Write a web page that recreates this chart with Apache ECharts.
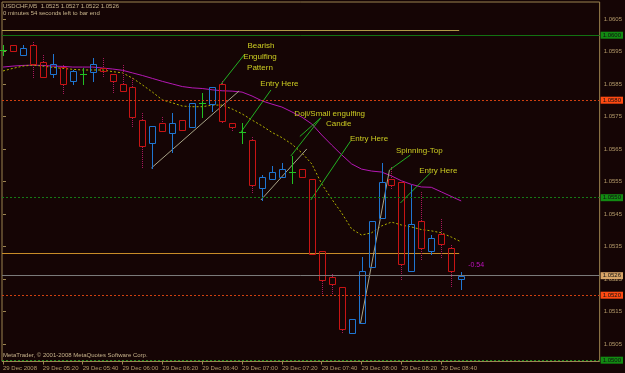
<!DOCTYPE html>
<html><head><meta charset="utf-8">
<script src="https://cdn.jsdelivr.net/npm/echarts@6/dist/echarts.min.js"></script>
<style>html,body{margin:0;padding:0;background:#150505;}#c{width:625px;height:373px;}</style>
</head><body><div id="c"></div>
<script>
// ---- data ----
const times = ["05:00","05:05","05:10","05:15","05:20","05:25","05:30","05:35","05:40","05:45","05:50","05:55",
"06:00","06:05","06:10","06:15","06:20","06:25","06:30","06:35","06:40","06:45","06:50","06:55",
"07:00","07:05","07:10","07:15","07:20","07:25","07:30","07:35","07:40","07:45","07:50","07:55",
"08:00","08:05","08:10","08:15","08:20","08:25","08:30","08:35","08:40","08:45","08:50"];
const opens  = [1.05955,1.05970,1.05939,1.05970,1.05919,1.05880,1.05901,1.05860,1.05881,1.05888,1.05900,1.05880,
1.05849,1.05840,1.05739,1.05668,1.05729,1.05698,1.05739,1.05719,1.05790,1.05788,1.05850,1.05729,
1.05703,1.05678,1.05529,1.05557,1.05565,1.05580,1.05588,1.05557,1.05336,1.05255,1.05224,1.05085,
1.05114,1.05286,1.05437,1.05557,1.05548,1.05275,1.05428,1.05336,1.05388,1.05346,1.05250];
const highs  = [1.05970,1.05970,1.05970,1.05980,1.05939,1.05942,1.05908,1.05892,1.05898,1.05929,1.05929,1.05880,
1.05908,1.05868,1.05761,1.05721,1.05748,1.05760,1.05739,1.05791,1.05821,1.05840,1.05860,1.05729,
1.05730,1.05688,1.05570,1.05598,1.05608,1.05628,1.05588,1.05557,1.05336,1.05265,1.05224,1.05126,
1.05317,1.05428,1.05608,1.05596,1.05548,1.05538,1.05518,1.05385,1.05434,1.05355,1.05270];
const lows   = [1.05940,1.05950,1.05939,1.05872,1.05871,1.05871,1.05821,1.05849,1.05850,1.05860,1.05872,1.05821,
1.05829,1.05719,1.05592,1.05591,1.05706,1.05642,1.05708,1.05719,1.05749,1.05768,1.05729,1.05708,
1.05668,1.05519,1.05493,1.05557,1.05565,1.05546,1.05565,1.05326,1.05206,1.05206,1.05085,1.05085,
1.05114,1.05286,1.05437,1.05529,1.05247,1.05275,1.05308,1.05327,1.05317,1.05224,1.05220];
const closes = [1.05955,1.05950,1.05960,1.05911,1.05871,1.05912,1.05849,1.05891,1.05881,1.05912,1.05890,1.05860,
1.05829,1.05748,1.05659,1.05721,1.05706,1.05731,1.05708,1.05791,1.05790,1.05840,1.05737,1.05719,
1.05703,1.05539,1.05565,1.05580,1.05588,1.05580,1.05565,1.05326,1.05247,1.05235,1.05095,1.05126,
1.05276,1.05428,1.05548,1.05539,1.05295,1.05418,1.05346,1.05377,1.05357,1.05275,1.05260];
const maSlow = [1.05902,1.05905,1.05907,1.05908,1.05907,1.05905,1.05904,1.05902,1.05902,1.05902,
1.05899,1.05896,1.05892,1.05884,1.05876,1.05867,1.05858,1.05850,1.05842,1.05838,
1.05836,1.05832,1.05829,1.05828,1.05825,1.05813,1.05798,1.05788,1.05779,1.05764,
1.05748,1.05727,1.05693,1.05662,1.05632,1.05604,1.05588,1.05582,1.05579,1.05567,
1.05552,1.05541,1.05533,1.05532,1.05518,1.05504,1.05490];
const maFast = [1.05890,1.05898,1.05905,1.05908,1.05905,1.05901,1.05898,1.05895,1.05893,1.05893,
1.05893,1.05888,1.05884,1.05868,1.05847,1.05825,1.05801,1.05792,1.05782,1.05780,
1.05780,1.05785,1.05785,1.05773,1.05758,1.05739,1.05721,1.05701,1.05685,1.05665,
1.05638,1.05604,1.05542,1.05496,1.05453,1.05404,1.05385,1.05392,1.05413,1.05425,
1.05416,1.05410,1.05402,1.05398,1.05392,1.05379,1.05364];
const xTickIdx = [0,4,8,12,16,20,24,28,32,36,40,44];
const xTickLabels = ["29 Dec 2008","29 Dec 05:20","29 Dec 05:40","29 Dec 06:00","29 Dec 06:20","29 Dec 06:40",
"29 Dec 07:00","29 Dec 07:20","29 Dec 07:40","29 Dec 08:00","29 Dec 08:20","29 Dec 08:40"];
const yTicks = [1.0505,1.0515,1.0525,1.0535,1.0545,1.0555,1.0565,1.0575,1.0585,1.0595,1.0605];
const levelPrices = [1.0600,1.0580,1.0550,1.0526,1.0520,1.0500];
const objLines = [[[-0.1,1.06016],[45.8,1.06016]],[[-0.1,1.05330],[45.8,1.05330]]];
const trendLines = [[[14.9,1.055915],[23.7,1.058285]],[[25.9,1.054931],[30.5,1.0565]],[[35.9,1.051146],[38.8,1.055854]]];
const pointerLines = [[[24.2,1.059392],[21.9,1.0585]],[[26.9,1.058315],[23.9,1.057023]],
[[31.9,1.057454],[28.9,1.056285]],[[31.9,1.057454],[29.8,1.056885]],
[[34.9,1.056746],[30.9,1.054931]],[[40.9,1.056315],[38.8,1.055854]],[[42.9,1.055762],[39.9,1.054838]]];
const annoText = ["Bearish","Engulfing","Pattern","Entry Here","Doji/Small engulfing","Candle","Entry Here","Spinning-Top","Entry Here"];
const annoPos = [[25.9,1.059669],[25.8,1.059331],[25.8,1.058992],[27.75,1.058515],[32.8,1.057577],[33.7,1.057269],[36.75,1.056808],[41.8,1.056438],[43.7,1.055838]];
const diffText = ["-0.54"];
const diffPos = [[47.5,1.052931]];

// ---- styles ----
const FONT = 'Liberation Sans, Arial, sans-serif';
const TAN = '#b49a6a';
const BULL = '#1f76d2', BEAR = '#c81414', BEARWICK = '#a8185c', DOJI = '#22c022';
const levelStyles = [
  {c:'#127212', t:'solid', bg:'#128a12'},
  {c:'#d04010', t:[2,2], bg:'#ff4a12'},
  {c:'#167a16', t:[2,2], bg:'#128a12'},
  {c:'#7a7a7a', t:'solid', bg:'#d8a468'},
  {c:'#d04010', t:[2,2], bg:'#ff4a12'},
  {c:'#1a8a1a', t:[2,2], bg:'#128a12'}
];

const chart = echarts.init(document.getElementById('c'), null, {renderer:'canvas'});
const candleData = times.map((t,i)=>[i, opens[i], highs[i], lows[i], closes[i]]);

function renderCandle(params, api){
  const i = api.value(0), o = api.value(1), h = api.value(2), l = api.value(3), c = api.value(4);
  const p0 = api.coord([i,o]);
  const xc = Math.round(p0[0]);
  const yo = p0[1], yc = api.coord([i,c])[1], yh = api.coord([i,h])[1], yl = api.coord([i,l])[1];
  const ch = [];
  if (o === c) {
    const y = Math.round(yo) + 0.5;
    ch.push({type:'line', shape:{x1:xc+0.5,y1:Math.round(yh),x2:xc+0.5,y2:Math.round(yl)+1}, style:{stroke:DOJI,lineWidth:1}});
    ch.push({type:'line', shape:{x1:xc-3,y1:y,x2:xc+4,y2:y}, style:{stroke:DOJI,lineWidth:1}});
  } else {
    const up = c > o;
    const col = up ? BULL : BEAR;
    const wcol = up ? BULL : BEARWICK;
    const top = Math.round(Math.min(yo,yc)), bot = Math.round(Math.max(yo,yc));
    const ht = Math.round(yh), lb = Math.round(yl);
    if (ht < top) ch.push({type:'line', shape:{x1:xc+0.5,y1:ht,x2:xc+0.5,y2:top}, style:{stroke:wcol,lineWidth:1,lineDash: up?null:[1,1]}});
    if (lb > bot) ch.push({type:'line', shape:{x1:xc+0.5,y1:bot+1,x2:xc+0.5,y2:lb+1}, style:{stroke:wcol,lineWidth:1,lineDash: up?null:[1,1]}});
    ch.push({type:'rect', shape:{x:xc-3+0.5, y:top+0.5, width:6, height:Math.max(bot-top,1)}, style:{fill:'none', stroke:col, lineWidth:1}});
  }
  return {type:'group', children:ch};
}

function textRenderer(texts, color, size){
  return function(params, api){
    const p = api.coord([api.value(0), api.value(1)]);
    return {type:'text', x:p[0], y:p[1], style:{text:texts[api.value(2)], fill:color, font: size+'px '+FONT, align:'center', verticalAlign:'middle'}};
  };
}

const option = {
  animation:false,
  backgroundColor:'#150505',
  grid:{left:2, right:23, top:2, bottom:11.5, show:true, borderColor:'#9c8450', borderWidth:1, backgroundColor:'transparent'},
  xAxis:{type:'value', min:-0.1, max:59.9, splitLine:{show:false},
    axisLine:{show:false},
    axisTick:{show:true, customValues:xTickIdx, length:3, lineStyle:{color:'#9c8450'}},
    axisLabel:{customValues:xTickIdx, formatter:(v)=>xTickLabels[xTickIdx.indexOf(Math.round(v))], color:TAN, fontSize:6, fontFamily:FONT, align:'left', margin:4}},
  yAxis:{type:'value', position:'right', min:1.04996, max:1.061022, scale:true, splitLine:{show:false},
    axisLine:{show:false},
    axisTick:{show:true, customValues:yTicks, length:3, lineStyle:{color:'#9c8450'}},
    axisLabel:{customValues:yTicks, formatter:(v)=>v.toFixed(4), color:TAN, fontSize:6, fontFamily:FONT, margin:4}},
  graphic:[
    {type:'text', left:3, top:3, style:{text:'USDCHF,M5  1.0525 1.0527 1.0522 1.0526', fill:'#c8b48c', font:'6px '+FONT}},
    {type:'text', left:3, top:10, style:{text:'0 minutes 54 seconds left to bar end', fill:'#c8b48c', font:'6px '+FONT}},
    {type:'text', left:3, top:352, style:{text:'MetaTrader, © 2001-2008 MetaQuotes Software Corp.', fill:'#c8b48c', font:'6px '+FONT}}
  ],
  series:[
    {type:'lines', coordinateSystem:'cartesian2d', silent:true, z:1,
      data: objLines.map((c,k)=>({coords:c, lineStyle:{color: k===0?'#b09a48':'#c88c28', width:1, opacity:1}}))},
    {type:'line', data: maSlow.map((v,i)=>[i,v]), showSymbol:false, symbol:'none', z:2,
      lineStyle:{color:'#b418b4', width:1},
      markLine:{silent:true, symbol:'none', precision:4,
        data: levelPrices.map((p,k)=>({yAxis:p,
          lineStyle:{color:levelStyles[k].c, type:levelStyles[k].t, width:1},
          label:{show:true, position:'end', distance:1, formatter:()=>p.toFixed(4), color:'#101010',
            backgroundColor:levelStyles[k].bg, padding:[1,2,0,2], fontSize:6, fontFamily:FONT}}))}},
    {type:'line', data: maFast.map((v,i)=>[i,v]), showSymbol:false, symbol:'none', z:2,
      lineStyle:{color:'#b0b000', width:1, type:[2,2]}},
    {type:'lines', coordinateSystem:'cartesian2d', silent:true, z:3,
      data: trendLines.map(c=>({coords:c})), lineStyle:{color:'#a8a488', width:1, opacity:1}},
    {type:'lines', coordinateSystem:'cartesian2d', silent:true, z:3,
      data: pointerLines.map(c=>({coords:c})), lineStyle:{color:'#22b022', width:1, opacity:1}},
    {type:'custom', renderItem:renderCandle, data:candleData, z:4, encode:{x:0, y:[1,2,3,4]}},
    {type:'custom', renderItem:textRenderer(annoText,'#cccc22',8), data:annoPos.map((p,k)=>[p[0],p[1],k]), z:5},
    {type:'custom', renderItem:textRenderer(diffText,'#c010c0',7), data:diffPos.map((p,k)=>[p[0],p[1],k]), z:5}
  ]
};
chart.setOption(option);
</script></body></html>
